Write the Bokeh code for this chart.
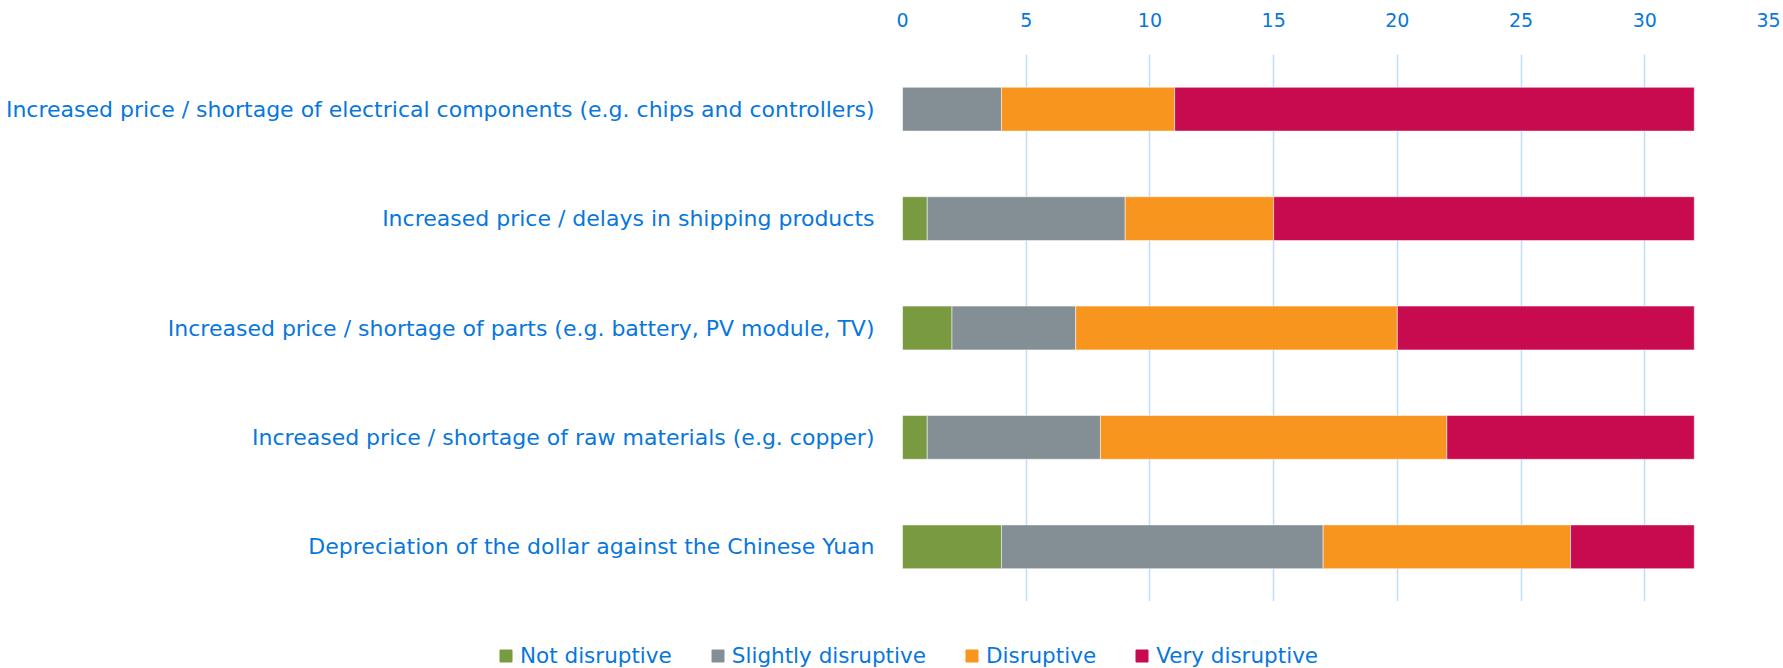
from bokeh.plotting import figure
from bokeh.layouts import column
from bokeh.models import FactorRange, Range1d, FixedTicker, Legend, LegendItem, ColumnDataSource
from bokeh.embed import file_html
from bokeh.resources import INLINE

categories = [
    "Increased price / shortage of electrical components (e.g. chips and controllers)",
    "Increased price / delays in shipping products",
    "Increased price / shortage of parts (e.g. battery, PV module, TV)",
    "Increased price / shortage of raw materials (e.g. copper)",
    "Depreciation of the dollar against the Chinese Yuan",
]
series_names = ["Not disruptive", "Slightly disruptive", "Disruptive", "Very disruptive"]
not_disruptive = [0, 1, 2, 1, 4]
slightly_disruptive = [4, 8, 5, 7, 13]
disruptive = [7, 6, 13, 14, 10]
very_disruptive = [21, 17, 12, 10, 5]
x_ticks = [0, 5, 10, 15, 20, 25, 30, 35]

colors = ["#7A9A42", "#848F95", "#F7951F", "#C80A4F"]
keys = ["nd", "sd", "d", "vd"]
TEXT = "#0877DB"
FONT = "DejaVu Sans"

source = ColumnDataSource(dict(cat=categories, nd=not_disruptive, sd=slightly_disruptive,
                               d=disruptive, vd=very_disruptive))

p = figure(width=1783, height=601, output_backend="svg", toolbar_location=None,
           y_range=FactorRange(factors=list(reversed(categories)), range_padding=0),
           x_range=Range1d(0, 35), x_axis_location="above")
p.frame_align = False
p.min_border_left = 902
p.min_border_right = 15
p.min_border_top = 54
p.min_border_bottom = 0
p.outline_line_color = None

renderers = p.hbar_stack(keys, y="cat", height=0.4, color=colors, source=source,
                         line_color="white", line_alpha=0.5, line_width=1)

p.xaxis.ticker = FixedTicker(ticks=x_ticks)
p.xaxis.axis_line_color = None
p.xaxis.major_tick_line_color = None
p.xaxis.minor_tick_line_color = None
p.xaxis.major_label_standoff = 22
p.xaxis.major_label_text_font = FONT
p.xaxis.major_label_text_font_size = "19px"
p.xaxis.major_label_text_color = TEXT

p.yaxis.axis_line_color = None
p.yaxis.major_tick_line_color = None
p.yaxis.minor_tick_line_color = None
p.yaxis.major_label_standoff = 22
p.yaxis.major_label_text_font = FONT
p.yaxis.major_label_text_font_size = "22px"
p.yaxis.major_label_text_color = TEXT

p.xgrid.grid_line_color = "#BFDDF7"
p.xgrid.grid_line_width = 1.5
p.ygrid.grid_line_color = None

# legend strip below the chart; its (hidden) renderers only provide the swatches
p2 = figure(width=1783, height=67, output_backend="svg", toolbar_location=None,
            x_range=Range1d(0, 35), y_range=FactorRange(factors=categories),
            x_axis_type=None, y_axis_type=None, min_border=0)
p2.frame_align = False
p2.outline_line_color = None
p2.xgrid.grid_line_color = None
p2.ygrid.grid_line_color = None
swatches = p2.hbar_stack(keys, y="cat", height=0.4, color=colors, source=source)
for r in swatches:
    r.visible = False
items = [LegendItem(label=n, renderers=[r]) for n, r in zip(series_names, swatches)]
legend = Legend(items=items, orientation="horizontal", location=(498, 0),
                glyph_width=15, glyph_height=15, label_standoff=7, spacing=38,
                padding=0, margin=0, border_line_color=None, background_fill_alpha=0,
                click_policy="none",
                label_text_font=FONT, label_text_font_size="21.5px", label_text_color=TEXT)
p2.add_layout(legend, "center")

layout = column(p, p2, spacing=0)
open("out.html", "w").write(file_html(layout, INLINE))
